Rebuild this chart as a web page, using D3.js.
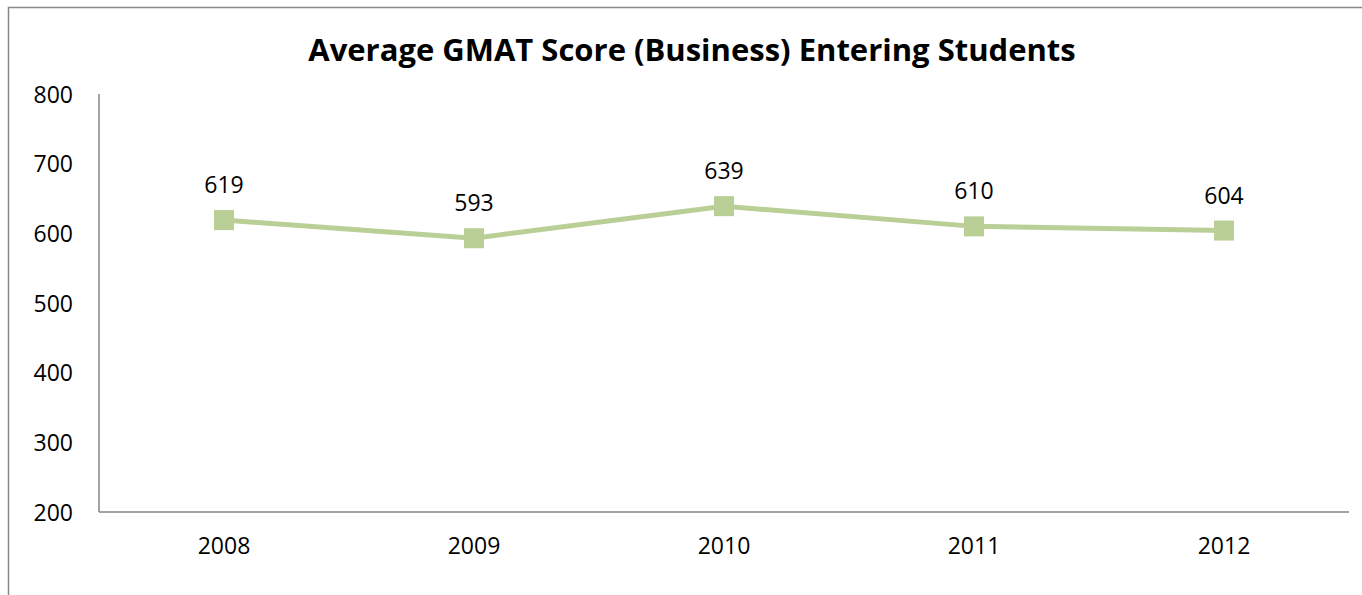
<!DOCTYPE html>
<html>
<head>
<meta charset="utf-8">
<script src="https://cdnjs.cloudflare.com/ajax/libs/d3/7.8.5/d3.min.js"></script>
<style>
  body { margin: 0; background: #fff; }
  svg { display: block; }
  text { font-family: "Open Sans", "Noto Sans", sans-serif; fill: #000; }
  .line { fill: none; stroke: #b9cf96; stroke-width: 5; }
  .marker { fill: #b9cf96; }
</style>
</head>
<body>
<div id="graphic"></div>
<script>
  var years = ["2008", "2009", "2010", "2011", "2012"];
  var scores = [619, 593, 639, 610, 604];
  var yTicks = [200, 300, 400, 500, 600, 700, 800];
  var title = "Average GMAT Score (Business) Entering Students";

  var width = 1362;
  var height = 595;
  var plotLeft = 99;
  var plotRight = 1349;
  var plotTop = 94;
  var plotBottom = 512;
  var markerSize = 20;
  var labelSize = "23px";

  var svg = d3.select("#graphic")
    .append("svg")
    .attr("width", width)
    .attr("height", height);

  // outer chart border, runs off the right and bottom edges
  svg.append("rect")
    .attr("x", 8.5)
    .attr("y", 7.5)
    .attr("width", width + 20)
    .attr("height", height + 20)
    .attr("fill", "none")
    .attr("stroke", "#888")
    .attr("stroke-width", 1.5);

  var xScale = d3.scaleBand().domain(years).range([plotLeft, plotRight]);
  var yScale = d3.scaleLinear().domain([200, 800]).range([plotBottom, plotTop]);

  var titleText = svg.append("text")
    .attr("x", 692)
    .attr("y", 61)
    .attr("text-anchor", "middle")
    .style("font-size", "31px")
    .style("font-weight", "bold")
    .text(title);
  var tw = titleText.node().getComputedTextLength();
  if (tw > 768) titleText.style("font-size", (31 * 768 / tw) + "px");

  var xAxis = d3.axisBottom(xScale).tickSize(0).tickPadding(0);
  var yAxis = d3.axisLeft(yScale).tickValues(yTicks).tickSize(0).tickPadding(0);

  var gx = svg.append("g")
    .attr("transform", "translate(0," + plotBottom + ")")
    .call(xAxis);
  gx.select(".domain").attr("stroke", "#868686").attr("stroke-width", 1.5)
    .attr("d", "M" + plotLeft + ",0H" + plotRight);
  gx.selectAll("text")
    .attr("y", 42)
    .attr("dy", 0)
    .attr("fill", "#000")
    .style("font-size", labelSize);

  var gy = svg.append("g")
    .attr("transform", "translate(" + plotLeft + ",0)")
    .call(yAxis);
  gy.select(".domain").attr("stroke", "#868686").attr("stroke-width", 1.5)
    .attr("d", "M0," + plotTop + "V" + plotBottom);
  gy.selectAll("text")
    .attr("x", -26)
    .attr("dy", "0.35em")
    .attr("fill", "#000")
    .style("font-size", labelSize);

  var cx = function(d, i) { return xScale(years[i]) + xScale.bandwidth() / 2; };
  var cy = function(d) { return yScale(d); };

  svg.append("path")
    .datum(scores)
    .attr("class", "line")
    .attr("d", d3.line().x(cx).y(cy));

  svg.selectAll(".marker")
    .data(scores)
    .enter()
    .append("rect")
    .attr("class", "marker")
    .attr("x", function(d, i) { return cx(d, i) - markerSize / 2; })
    .attr("y", function(d) { return cy(d) - markerSize / 2; })
    .attr("width", markerSize)
    .attr("height", markerSize);

  svg.selectAll(".label")
    .data(scores)
    .enter()
    .append("text")
    .attr("class", "label")
    .attr("x", cx)
    .attr("y", function(d) { return cy(d) - 27; })
    .attr("text-anchor", "middle")
    .style("font-size", labelSize)
    .text(function(d) { return d; });
</script>
</body>
</html>
